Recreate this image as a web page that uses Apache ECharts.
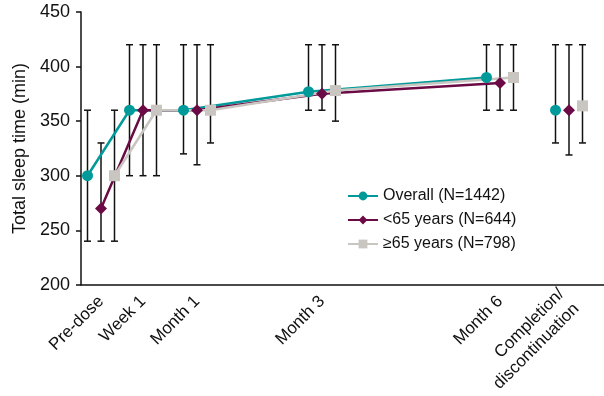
<!DOCTYPE html>
<html>
<head>
<meta charset="utf-8">
<script src="https://cdn.jsdelivr.net/npm/echarts@6/dist/echarts.min.js"></script>
<style>
  html, body { margin: 0; padding: 0; background: #fff; }
  #chart { width: 604px; height: 396px; }
</style>
</head>
<body>
<div id="chart"></div>
<script>
// timepoints and where each sits along the x axis (axis units)
const timepoints = ['Pre-dose', 'Week 1', 'Month 1', 'Month 3', 'Month 6', 'Completion/\ndiscontinuation'];
const timepointPos = [20, 62, 116, 241, 419, 488];
const dodge = 13.5;

// mean total sleep time (min), error bar low / high
const overallMean = [300, 360, 360, 377, 390, 360];
const overallLow  = [240, 300, 320, 360, 360, 330];
const overallHigh = [360, 420, 420, 420, 420, 420];

const under65Mean = [270, 360, 360, 375, 385, 360];
const under65Low  = [240, 300, 310, 360, 360, 319];
const under65High = [330, 420, 420, 420, 420, 420];

const over65Mean = [300, 360, 360, 378, 390, 364];
const over65Low  = [240, 300, 330, 350, 360, 330];
const over65High = [360, 420, 420, 420, 420, 420];

const yTicks = [200, 250, 300, 350, 400, 450];

const groups = [
  { name: 'Overall (N=1442)', mean: overallMean, low: overallLow, high: overallHigh, offset: -dodge, color: '#009a9a', symbol: 'circle', size: 11 },
  { name: '<65 years (N=644)', mean: under65Mean, low: under65Low, high: under65High, offset: 0, color: '#6b0a45', symbol: 'diamond', size: 12 },
  { name: '\u226565 years (N=798)', mean: over65Mean, low: over65Low, high: over65High, offset: dodge, color: '#c9c5c1', symbol: 'rect', size: 11 }
];

const font = 'Liberation Sans, Arial, sans-serif';

const chart = echarts.init(document.getElementById('chart'));

const series = [];
groups.forEach(function (g) {
  const pts = timepointPos.map(function (p, i) { return [p + g.offset, g.mean[i], g.low[i], g.high[i]]; });
  // error bars
  series.push({
    type: 'custom',
    z: 1,
    silent: true,
    data: pts.map(function (d) { return [d[0], d[2], d[3]]; }),
    encode: { x: 0, y: [1, 2] },
    renderItem: function (params, api) {
      const lo = api.coord([api.value(0), api.value(1)]);
      const hi = api.coord([api.value(0), api.value(2)]);
      const w = 3.5;
      const st = { stroke: '#111', lineWidth: 1.5 };
      return {
        type: 'group',
        children: [
          { type: 'line', shape: { x1: lo[0], y1: lo[1], x2: hi[0], y2: hi[1] }, style: st },
          { type: 'line', shape: { x1: lo[0] - w, y1: lo[1], x2: lo[0] + w, y2: lo[1] }, style: st },
          { type: 'line', shape: { x1: hi[0] - w, y1: hi[1], x2: hi[0] + w, y2: hi[1] }, style: st }
        ]
      };
    }
  });
  // connected timepoints (pre-dose .. month 6)
  series.push({
    name: g.name,
    type: 'line',
    z: 3,
    data: pts.slice(0, 5).map(function (d) { return [d[0], d[1]]; }),
    symbol: g.symbol,
    symbolSize: g.size,
    itemStyle: { color: g.color },
    lineStyle: { color: g.color, width: 2.5 }
  });
  // completion / discontinuation, standalone
  series.push({
    type: 'scatter',
    z: 3,
    data: pts.slice(5).map(function (d) { return [d[0], d[1]]; }),
    symbol: g.symbol,
    symbolSize: g.size,
    itemStyle: { color: g.color, opacity: 1 }
  });
});

const option = {
  animation: false,
  textStyle: { fontFamily: font },
  grid: { left: 81, right: 0, top: 12, bottom: 110 },
  legend: {
    orient: 'vertical',
    left: 342,
    top: 183,
    itemWidth: 30,
    itemHeight: 11,
    itemGap: 8,
    data: groups.map(function (g) { return g.name; }),
    textStyle: { fontFamily: font, fontSize: 16, color: '#111' }
  },
  xAxis: {
    type: 'value',
    min: 0,
    max: 523,
    splitLine: { show: false },
    axisLine: { lineStyle: { color: '#111', width: 1.5 } },
    axisTick: { show: false },
    axisLabel: {
      customValues: timepointPos,
      rotate: 45,
      margin: 14,
      fontSize: 17,
      lineHeight: 21,
      color: '#111',
      formatter: function (v) {
        const i = timepointPos.indexOf(v);
        return i >= 0 ? timepoints[i] : '';
      }
    }
  },
  yAxis: {
    type: 'value',
    min: 200,
    max: 450,
    interval: 50,
    name: 'Total sleep time (min)',
    nameLocation: 'middle',
    nameGap: 52,
    nameTextStyle: { fontSize: 18, color: '#111', fontFamily: font },
    splitLine: { show: false },
    axisLine: { show: true, lineStyle: { color: '#111', width: 1.5 } },
    axisTick: { show: true, length: 5, lineStyle: { color: '#111', width: 1.5 } },
    axisLabel: {
      fontSize: 18,
      color: '#111',
      margin: 11,
      formatter: function (v) { return yTicks.indexOf(v) >= 0 ? String(v) : ''; }
    }
  },
  series: series
};

chart.setOption(option);
</script>
</body>
</html>
